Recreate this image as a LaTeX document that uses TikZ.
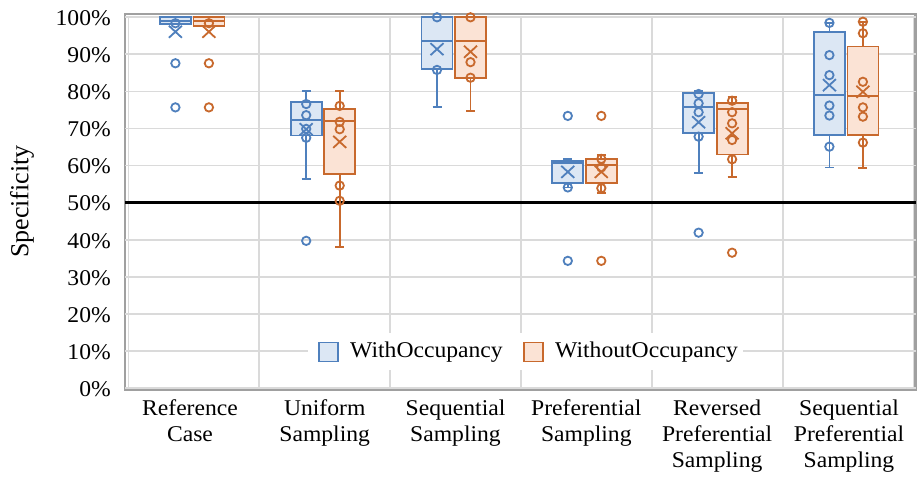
\documentclass[tikz,border=0pt]{standalone}
\usepackage{fontspec}
\setmainfont{Liberation Serif}[FakeStretch=1.05]
\newfontfamily\uprightserif{Liberation Serif}

\definecolor{bluec}{HTML}{4F80BD}
\definecolor{bluefill}{HTML}{DCE7F4}
\definecolor{orangec}{HTML}{C8692D}
\definecolor{orangefill}{HTML}{FBE3D5}
\definecolor{gridc}{HTML}{DADADA}
\definecolor{framec}{HTML}{A0A0A0}

\tikzset{
  blue edge/.style={draw=bluec, line width=1.8pt},
  orange edge/.style={draw=orangec, line width=1.8pt},
  gridline/.style={draw=gridc, line width=1.8pt},
  ticklabel/.style={anchor=east, inner sep=0pt, font=\fontsize{22.5}{26}\selectfont},
  catlabel/.style={anchor=north, inner sep=0pt, align=center, font=\fontsize{22.5}{26}\selectfont},
  keybox/.style={line width=1.8pt, minimum size=19pt, inner sep=0pt},
  keytext/.style={anchor=west, inner sep=0pt, font=\fontsize{22.5}{26}\selectfont},
}

% one box with whiskers: centre, low, q1, median, q3, high, mean, colour key
\newcommand\whiskerbox[8]{%
  \draw[#8 edge] (#1,#2) -- (#1,#3) (#1,#5) -- (#1,#6)
        (#1-4.5,#2) -- (#1+4.5,#2) (#1-4.5,#6) -- (#1+4.5,#6);
  \draw[#8 edge, fill=#8fill] (#1-15.5,#3) rectangle (#1+15.5,#5);
  \draw[#8 edge] (#1-15.5,#4) -- (#1+15.5,#4);
  \draw[#8 edge] (#1,#7) +(-6.5pt,-6pt) -- +(6.5pt,6pt) +(-6.5pt,6pt) -- +(6.5pt,-6pt);
}
% individual points: centre, colour key, list of values
\newcommand\datapoints[3]{%
  \foreach \v in {#3} \draw[#2 edge] (#1,\v) circle[radius=4.2pt];
}

\begin{document}
\begin{tikzpicture}[x=1pt, y=-1pt]
\useasboundingbox (0,0) rectangle (917,476);
\fill[white] (0,0) rectangle (917,476);

% outer frame
\draw[framec, line width=2.2pt] (125,14) rectangle (915.5,390);

% value axis: 0 at y=388, 100 at y=17.3
\begin{scope}[yshift=-388pt, y=3.707pt]
  \foreach \v in {0,10,...,100} \draw[gridline] (125,\v) -- (915.5,\v);
  \foreach \k in {0,...,6} \draw[gridline] ({128.45+130.85*\k},0) -- ({128.45+130.85*\k},100);

  % legend backdrop
  \fill[white] (308,14.9) rectangle (743,4.9);

  % threshold
  \draw[black, line width=2.6pt] (125,50) -- (915.5,50);

  % Reference Case
  \whiskerbox{175.4}{98.2}{98.2}{99.1}{100}{100}{96.1}{blue}
  \datapoints{175.4}{blue}{98.4,87.6,75.7}
  \whiskerbox{208.9}{97.7}{97.7}{99.1}{100}{100}{96.1}{orange}
  \datapoints{208.9}{orange}{98.4,87.6,75.7}

  % Uniform Sampling
  \whiskerbox{306.2}{56.4}{68.1}{72.3}{77.1}{80.2}{69.8}{blue}
  \datapoints{306.2}{blue}{76.6,73.6,69.9,67.5,39.7}
  \whiskerbox{339.7}{38.1}{57.7}{72.0}{75.3}{80.2}{66.4}{orange}
  \datapoints{339.7}{orange}{76.1,71.8,69.8,54.6,50.5}

  % Sequential Sampling
  \whiskerbox{437}{75.7}{86.0}{93.7}{100}{100}{91.4}{blue}
  \datapoints{437}{blue}{100,85.8}
  \whiskerbox{470.5}{74.8}{83.7}{93.7}{100}{100}{90.7}{orange}
  \datapoints{470.5}{orange}{100,87.9,83.7}

  % Preferential Sampling
  \whiskerbox{567.8}{54.1}{55.2}{60.8}{61.3}{61.8}{58.3}{blue}
  \datapoints{567.8}{blue}{54.1,73.4,34.3}
  \whiskerbox{601.3}{52.5}{55.2}{60.2}{61.8}{62.8}{58.3}{orange}
  \datapoints{601.3}{orange}{61.8,59.5,53.9,73.4,34.3}

  % Reversed Preferential Sampling
  \whiskerbox{698.6}{58.1}{68.7}{75.9}{79.5}{80.1}{71.7}{blue}
  \datapoints{698.6}{blue}{79.3,76.8,74.4,67.8,41.9}
  \whiskerbox{732.1}{57.0}{63.0}{75.2}{76.8}{78.6}{68.7}{orange}
  \datapoints{732.1}{orange}{77.5,74.4,71.4,66.9,61.7,36.5}

  % Sequential Preferential Sampling
  \whiskerbox{829.4}{59.5}{68.2}{79.0}{96.1}{98.5}{81.7}{blue}
  \datapoints{829.4}{blue}{98.5,89.8,84.4,76.2,73.5,65.1}
  \whiskerbox{862.9}{59.4}{68.2}{78.8}{92.1}{98.8}{79.9}{orange}
  \datapoints{862.9}{orange}{98.8,95.7,82.6,75.7,73.2,66.2}
\end{scope}

% legend
\node[keybox, draw=bluec, fill=bluefill] (keyA) at (328.5,352) {};
\node[keytext] (labA) at (350,352.5) {WithOccupancy};
\node[keybox, draw=orangec, fill=orangefill] (keyB) at (533.5,352) {};
\node[keytext] (labB) at (555,352.5) {WithoutOccupancy};

% value ticks
\foreach \v in {0,10,...,100}
  \node[ticklabel] (tick\v) at (111,{389-3.707*\v}) {\v\%};

% axis title
\node[rotate=90, inner sep=0pt, font=\uprightserif\fontsize{26}{30}\selectfont] (ytitle) at (22,201.5) {Specificity};

% categories
\node[catlabel] (cat1) at (190,399.5) {Reference\\Case};
\node[catlabel] (cat2) at (324.7,399.5) {Uniform\\Sampling};
\node[catlabel] (cat3) at (455.5,399.5) {Sequential\\Sampling};
\node[catlabel] (cat4) at (586.3,399.5) {Preferential\\Sampling};
\node[catlabel] (cat5) at (717.1,399.5) {Reversed\\Preferential\\Sampling};
\node[catlabel] (cat6) at (849,399.5) {Sequential\\Preferential\\Sampling};
\end{tikzpicture}
\end{document}
